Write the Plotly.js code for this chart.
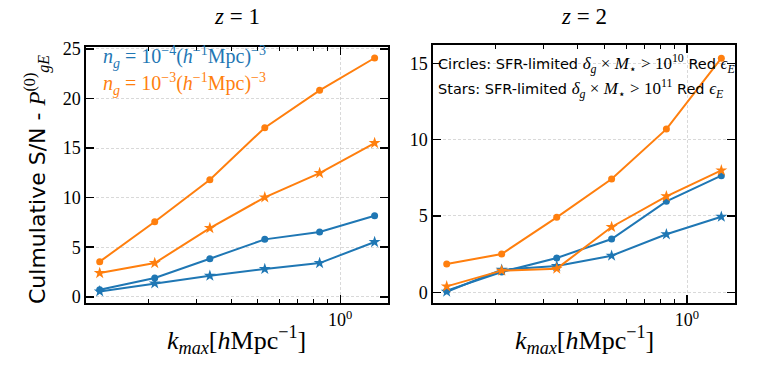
<!DOCTYPE html>
<html>
<head>
<meta charset="utf-8">
<script src="https://cdn.plot.ly/plotly-3.0.1.min.js"></script>
<style>html,body{margin:0;padding:0;background:#fff;}#plot{width:758px;height:379px;}</style>
</head>
<body>
<div id="plot"></div>
<script>
// k_max values [h/Mpc]
const kmax = [0.133, 0.211, 0.335, 0.531, 0.841, 1.334];
// z = 1
const z1_ng3_circles = [3.54, 7.57, 11.81, 17.06, 20.83, 24.09];
const z1_ng3_stars   = [2.39, 3.40, 6.93, 10.03, 12.48, 15.51];
const z1_ng4_circles = [0.71, 1.89, 3.84, 5.79, 6.53, 8.18];
const z1_ng4_stars   = [0.54, 1.35, 2.12, 2.80, 3.40, 5.52];
// z = 2
const z2_ng3_circles = [1.86, 2.51, 4.91, 7.42, 10.69, 15.34];
const z2_ng3_stars   = [0.39, 1.42, 1.55, 4.28, 6.29, 7.99];
const z2_ng4_circles = [0.11, 1.33, 2.25, 3.49, 5.96, 7.64];
const z2_ng4_stars   = [0.04, 1.48, 1.72, 2.40, 3.80, 4.95];

const y1Ticks = [0, 5, 10, 15, 20, 25];
const y2Ticks = [0, 5, 10, 15];
const xMajor = [1];
const xMajorText = ['10<sup>0</sup>'];
const xMinor = [0.2, 0.3, 0.4, 0.5, 0.6, 0.7, 0.8, 0.9];

const BLUE = '#1f77b4', ORANGE = '#ff7f0e';
const W = 758, H = 379;
const px = x => x / W, py = y => 1 - y / H;

function tr(y, color, sym, xa, ya) {
  return {
    x: kmax, y: y, xaxis: xa, yaxis: ya, type: 'scatter', mode: 'lines+markers',
    line: {color: color, width: 2},
    marker: {color: color, symbol: sym, size: sym === 'star' ? 9 : 7, line: {width: 0}},
    showlegend: false, hoverinfo: 'skip'
  };
}

const data = [
  tr(z1_ng4_circles, BLUE, 'circle', 'x', 'y'),
  tr(z1_ng4_stars, BLUE, 'star', 'x', 'y'),
  tr(z1_ng3_circles, ORANGE, 'circle', 'x', 'y'),
  tr(z1_ng3_stars, ORANGE, 'star', 'x', 'y'),
  tr(z2_ng4_circles, BLUE, 'circle', 'x2', 'y2'),
  tr(z2_ng4_stars, BLUE, 'star', 'x2', 'y2'),
  tr(z2_ng3_circles, ORANGE, 'circle', 'x2', 'y2'),
  tr(z2_ng3_stars, ORANGE, 'star', 'x2', 'y2'),
];

const SERIF = 'Liberation Serif, DejaVu Serif, serif';
const SANS = 'DejaVu Sans, sans-serif';

function xax(dom) {
  return {
    type: 'log', domain: dom, range: [-0.925, 0.175],
    tickmode: 'array', tickvals: xMajor, ticktext: xMajorText,
    ticks: 'inside', ticklen: 8, tickwidth: 1.5, tickcolor: '#000',
    mirror: 'ticks', showline: true, linecolor: '#000', linewidth: 2,
    showgrid: true, gridcolor: '#cfcfcf', gridwidth: 0.8, griddash: '3px,2px',
    zeroline: false,
    tickfont: {family: SERIF, size: 18, color: '#000'},
    minor: {tickmode: 'array', tickvals: xMinor, ticks: 'inside', ticklen: 4, tickwidth: 1, tickcolor: '#000', showgrid: false}
  };
}
function xtop(dom, over, anchor) {
  return {
    type: 'log', domain: dom, range: [-0.925, 0.175], overlaying: over, anchor: anchor, side: 'top',
    tickmode: 'array', tickvals: xMajor, showticklabels: false,
    ticks: 'inside', ticklen: 8, tickwidth: 1.5, tickcolor: '#000',
    showline: false, showgrid: false, zeroline: false,
    minor: {tickmode: 'array', tickvals: xMinor, ticks: 'inside', ticklen: 4, tickwidth: 1, tickcolor: '#000', showgrid: false}
  };
}
function yax(dom, rng, tv, anchor) {
  return {
    domain: dom, range: rng, anchor: anchor,
    tickmode: 'array', tickvals: tv,
    ticks: 'inside', ticklen: 8, tickwidth: 1.5, tickcolor: '#000',
    mirror: 'ticks', showline: true, linecolor: '#000', linewidth: 2,
    showgrid: true, gridcolor: '#cfcfcf', gridwidth: 0.8, griddash: '3px,2px',
    zeroline: false,
    tickfont: {family: SERIF, size: 18, color: '#000'}
  };
}

const dom1 = [px(86.3), px(388.3)], dom2 = [px(433.3), px(735)];
const xaxis = xax(dom1); xaxis.anchor = 'y';
const xaxis2 = xax(dom2); xaxis2.anchor = 'y2';
const yaxis = yax([py(302.7), py(46.7)], [-0.6, 25.23], y1Ticks, 'x');
const yaxis2 = yax([py(302.7), py(45)], [-0.68, 16.2], y2Ticks, 'x2');
const xaxis3 = xtop(dom1, 'x', 'y');
const xaxis4 = xtop(dom2, 'x2', 'y2');

const mathS = s => '<span style="font-family:' + SERIF + ';font-size:17px">' + s + '</span>';
const mathY = s => '<span style="font-family:' + SERIF + ';font-size:23px">' + s + '</span>';

const annotations = [
  {text: '<i>z</i> = 1', x: px(237), y: py(16), xref: 'paper', yref: 'paper', showarrow: false,
   font: {family: SERIF, size: 23, color: '#000'}, xanchor: 'center', yanchor: 'middle'},
  {text: '<i>z</i> = 2', x: px(584), y: py(16), xref: 'paper', yref: 'paper', showarrow: false,
   font: {family: SERIF, size: 23, color: '#000'}, xanchor: 'center', yanchor: 'middle'},
  {text: '<i>k</i><sub><i>max</i></sub>[<i>h</i>Mpc<sup>−1</sup>]', x: px(236), y: py(340), xref: 'paper', yref: 'paper', showarrow: false,
   font: {family: SERIF, size: 26, color: '#000'}, xanchor: 'center', yanchor: 'middle'},
  {text: '<i>k</i><sub><i>max</i></sub>[<i>h</i>Mpc<sup>−1</sup>]', x: px(584), y: py(340), xref: 'paper', yref: 'paper', showarrow: false,
   font: {family: SERIF, size: 26, color: '#000'}, xanchor: 'center', yanchor: 'middle'},
  {text: 'Culmulative S/N - ' + mathY('<i>P</i><sup>(0)</sup><sub><i>gE</i></sub>'), x: px(37), y: py(180), xref: 'paper', yref: 'paper', showarrow: false,
   textangle: -90, font: {family: SANS, size: 22, color: '#000'}, xanchor: 'center', yanchor: 'middle'},
  {text: '<i>n<sub>g</sub></i> = 10<sup>−4</sup>(<i>h</i><sup>−1</sup>Mpc)<sup>−3</sup>', x: px(101), y: py(57), xref: 'paper', yref: 'paper', showarrow: false,
   font: {family: SERIF, size: 20, color: BLUE}, xanchor: 'left', yanchor: 'middle'},
  {text: '<i>n<sub>g</sub></i> = 10<sup>−3</sup>(<i>h</i><sup>−1</sup>Mpc)<sup>−3</sup>', x: px(101), y: py(84), xref: 'paper', yref: 'paper', showarrow: false,
   font: {family: SERIF, size: 20, color: ORANGE}, xanchor: 'left', yanchor: 'middle'},
  {text: 'Circles: SFR-limited ' + mathS('<i>δ<sub>g</sub></i> × <i>M</i><sub>⋆</sub> > 10<sup>10</sup>') + ' Red ' + mathS('<i>ϵ<sub>E</sub></i>'),
   x: px(436), y: py(63), xref: 'paper', yref: 'paper', showarrow: false,
   font: {family: SANS, size: 14.5, color: '#000'}, xanchor: 'left', yanchor: 'middle'},
  {text: 'Stars: SFR-limited ' + mathS('<i>δ<sub>g</sub></i> × <i>M</i><sub>⋆</sub> > 10<sup>11</sup>') + ' Red ' + mathS('<i>ϵ<sub>E</sub></i>'),
   x: px(436), y: py(89), xref: 'paper', yref: 'paper', showarrow: false,
   font: {family: SANS, size: 14.5, color: '#000'}, xanchor: 'left', yanchor: 'middle'},
];

const layout = {
  width: W, height: H, margin: {l: 0, r: 0, t: 0, b: 0},
  paper_bgcolor: '#fff', plot_bgcolor: '#fff',
  xaxis: xaxis, yaxis: yaxis, xaxis2: xaxis2, yaxis2: yaxis2, xaxis3: xaxis3, xaxis4: xaxis4,
  annotations: annotations, showlegend: false
};

Plotly.newPlot('plot', data, layout, {staticPlot: true, displayModeBar: false});
</script>
</body>
</html>
